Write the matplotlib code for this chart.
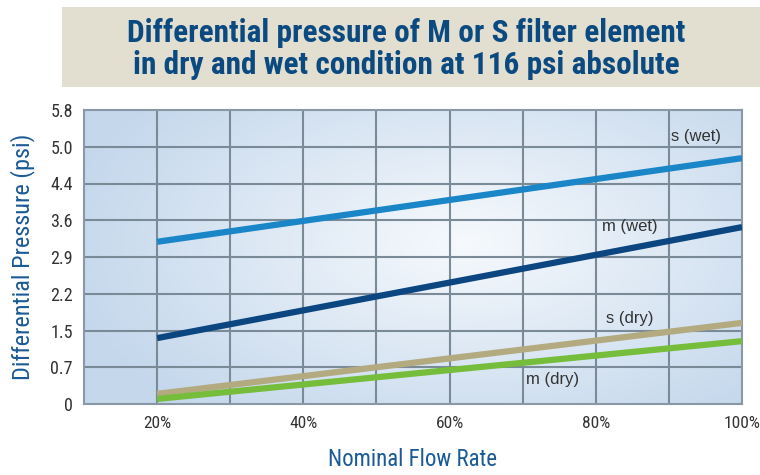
import numpy as np
import matplotlib
matplotlib.use("Agg")
import matplotlib.pyplot as plt
from matplotlib.patches import Rectangle

# ---- data ----
flow_pct = [20, 100]
s_wet = [3.20, 4.85]
m_wet = [1.30, 3.49]
s_dry = [0.20, 1.60]
m_dry = [0.10, 1.24]
series_labels = ["s (wet)", "m (wet)", "s (dry)", "m (dry)"]
y_tick_labels = ["0", "0.7", "1.5", "2.2", "2.9", "3.6", "4.4", "5.0", "5.8"]
x_ticks = [20, 40, 60, 80, 100]
x_tick_labels = ["20%", "40%", "60%", "80%", "100%"]
title = "Differential pressure of M or S filter element\nin dry and wet condition at 116 psi absolute"
xlabel = "Nominal Flow Rate"
ylabel = "Differential Pressure (psi)"

NARROW = ["Roboto Condensed", "DejaVu Sans"]
REG = ["Liberation Sans", "DejaVu Sans"]

fig = plt.figure(figsize=(7.6, 4.75), dpi=100)
fig.patch.set_facecolor("white")

# title box
fig.patches.append(Rectangle((62/760, 1-87/475), (760-62)/760, 80/475,
                             transform=fig.transFigure, facecolor="#e3dfd0",
                             edgecolor="none", zorder=0))
fig.text(406/760, 1-49/475, title, ha="center", va="center", fontsize=22.5,
         fontweight="bold", color="#0b4a80", family=NARROW, linespacing=1.1)

ax = fig.add_axes([84/760, 1-404/475, (742-84)/760, (404-110)/475])
ymax = 5.8
ax.set_xlim(10, 100)
ax.set_ylim(0, ymax)

# radial gradient background
nx, ny = 400, 200
xx, yy = np.meshgrid(np.linspace(0, 1, nx), np.linspace(0, 1, ny))
cx, cy = 0.58, 0.55
r = np.sqrt(((xx-cx)/0.62)**2 + ((yy-cy)/0.75)**2)
r = np.clip(r, 0, 1)
c_in = np.array([0.965, 0.978, 0.992])
c_out = np.array([0.77, 0.845, 0.925])
img = c_in[None, None, :] * (1-r[..., None]) + c_out[None, None, :] * r[..., None]
ax.imshow(img, extent=[10, 100, 0, ymax], aspect="auto", origin="lower", zorder=0)

grid_c = "#7b8a97"
yt = np.linspace(0, ymax, len(y_tick_labels))
for v in yt[1:-1]:
    ax.axhline(v, color=grid_c, lw=1.5, zorder=1)
for v in range(20, 100, 10):
    ax.axvline(v, color=grid_c, lw=1.5, zorder=1)
for s in ax.spines.values():
    s.set_color("#8a98a5")
    s.set_linewidth(1.5)

colors = ["#1a86c8", "#0b4680", "#b3aa80", "#76bd3c"]
for ys, c in zip([s_wet, m_wet, s_dry, m_dry], colors):
    ax.plot(flow_pct, ys, color=c, lw=4.5, solid_capstyle="butt", zorder=3)

lab_pos = [(90.3, 5.27), (80.8, 3.50), (81.4, 1.68), (70.4, 0.49)]
for (x, y), t in zip(lab_pos, series_labels):
    ax.text(x, y, t, ha="left", va="center", fontsize=12, color="#333333",
            family=REG, zorder=4)

ax.set_yticks(yt)
ax.set_yticklabels(y_tick_labels, family=NARROW, fontsize=13, color="#333333")
ax.set_xticks(x_ticks)
ax.set_xticklabels(x_tick_labels, family=NARROW, fontsize=12.5, color="#333333")
ax.tick_params(length=0)
ax.tick_params(axis="y", pad=8)
ax.tick_params(axis="x", pad=9)

ax.set_xlabel(xlabel, family=NARROW, fontsize=16.5, color="#1a5a96", labelpad=12)
ax.set_ylabel(ylabel, family=NARROW, fontsize=17.5, color="#1a5a96", labelpad=11)

fig.savefig("out.png", dpi=100)
